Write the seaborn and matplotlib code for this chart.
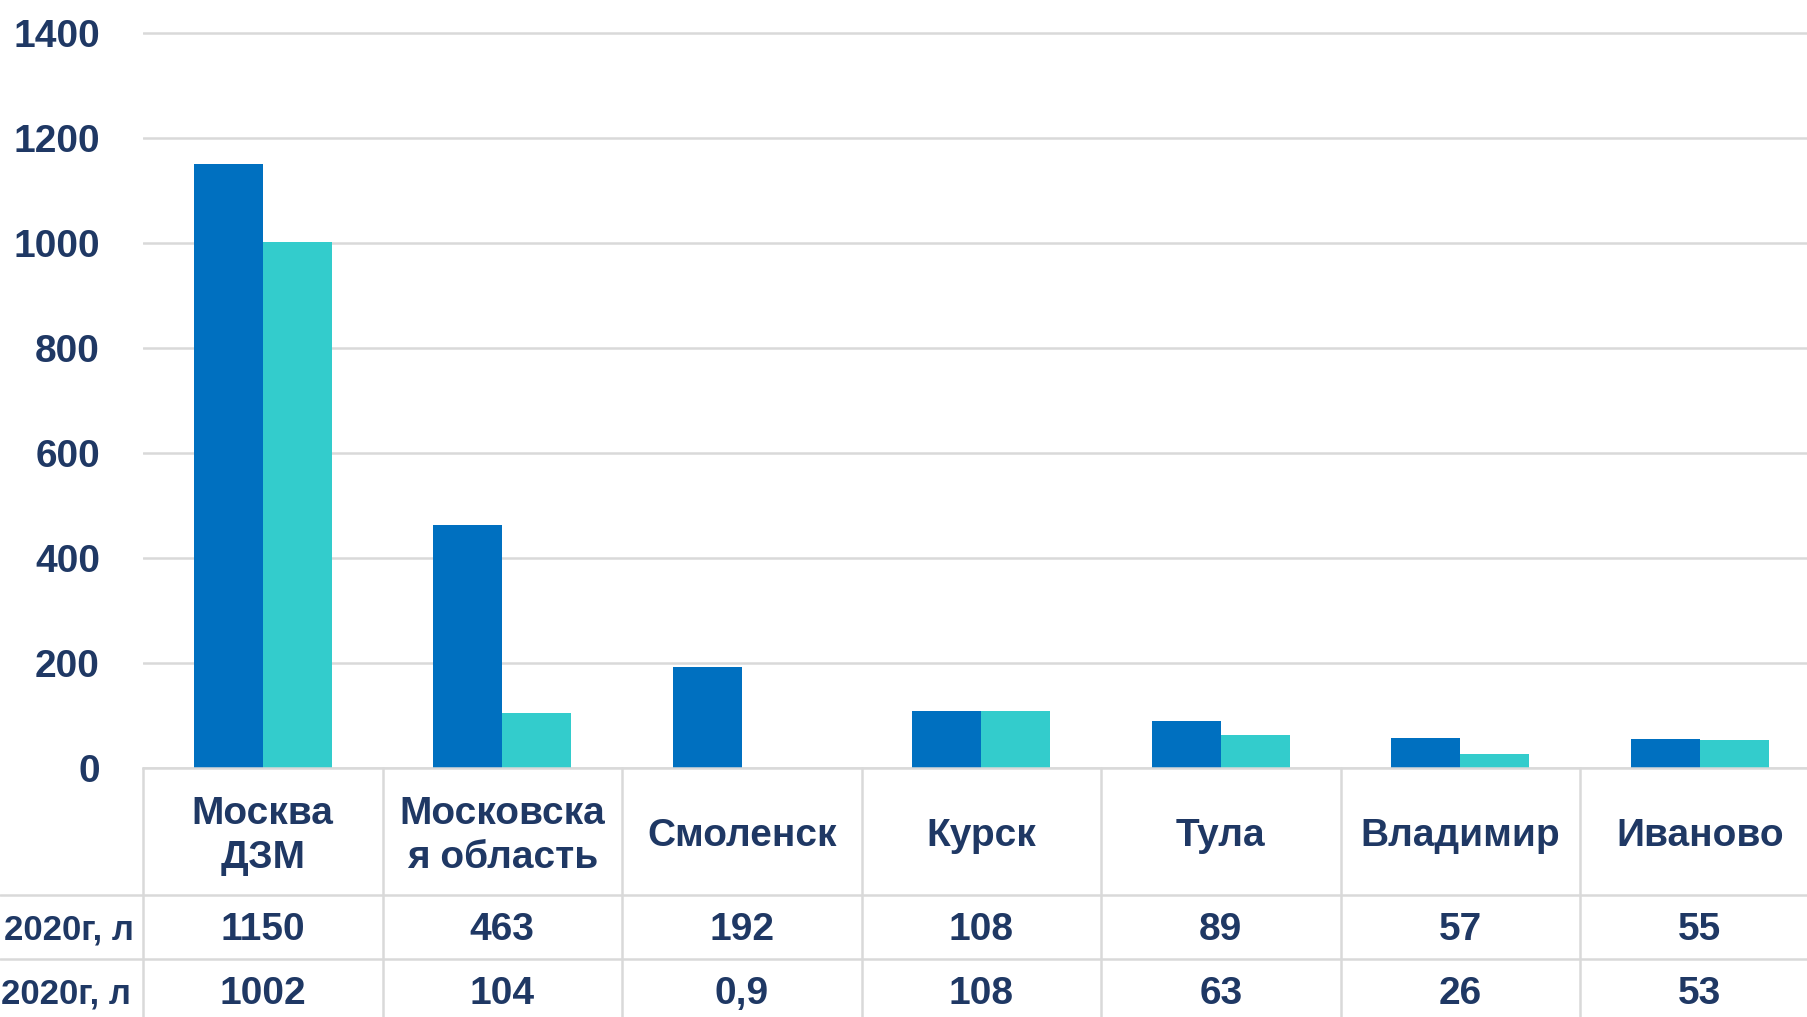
import numpy as np
import pandas as pd
import matplotlib
matplotlib.use("Agg")
import matplotlib.pyplot as plt
import matplotlib.transforms as mtransforms
from matplotlib.lines import Line2D
import seaborn as sns

# data
regions = ["Москва\nДЗМ", "Московска\nя область", "Смоленск", "Курск", "Тула", "Владимир", "Иваново"]
series_names = ["ряд 1", "ряд 2"]
row_labels = ["2020г, л", "2020г, л"]
values_1 = [1150, 463, 192, 108, 89, 57, 55]
values_2 = [1002, 104, 0.9, 108, 63, 26, 53]
y_ticks = [0, 200, 400, 600, 800, 1000, 1200, 1400]

DARK = "#0070C0"
TEAL = "#33CCCC"
TXT = "#1F3864"
GRID = "#D9D9D9"

df = pd.DataFrame({
    "region": regions * 2,
    "series": [series_names[0]] * len(regions) + [series_names[1]] * len(regions),
    "value": values_1 + values_2,
})

sns.set_theme(style="white")
plt.rcParams["font.family"] = ["Liberation Sans Narrow", "Liberation Sans", "DejaVu Sans"]
plt.rcParams["font.weight"] = "bold"

W, H = 1808, 1017
fig = plt.figure(figsize=(W / 100, H / 100), dpi=100)
# axes runs off the right edge like the cropped slide
ax_left, ax_w = 143, 239.5 * 7
ax_bottom_px, ax_h = 768, 768
ax = fig.add_axes([ax_left / W, (H - ax_bottom_px) / H, ax_w / W, ax_h / H])

sns.barplot(data=df, x="region", y="value", hue="series", order=regions,
            palette=[DARK, TEAL], width=0.577, gap=0, saturation=1,
            edgecolor="none", legend=False, ax=ax)

ax.set_ylim(0, 1400 * 768 / 735)
ax.set_xlim(-0.5, len(regions) - 0.5)
ax.set_yticks(y_ticks)
ax.set_yticklabels([str(t) for t in y_ticks], fontsize=28, color=TXT, fontweight="bold")
ax.tick_params(axis="y", length=0, pad=31)
ax.set_xticks([])
ax.set_xlabel("")
ax.set_ylabel("")
ax.yaxis.grid(True, color=GRID, linewidth=1.8)
ax.set_axisbelow(True)
for s in ["top", "right", "left"]:
    ax.spines[s].set_visible(False)
ax.spines["bottom"].set_color(GRID)
ax.spines["bottom"].set_linewidth(1.8)

# table under the chart
trans = mtransforms.blended_transform_factory(ax.transData, ax.transAxes)
hdr_b = -127 / 768
r1_b = -191 / 768
r2_b = -255 / 768
for i in range(len(regions) + 1):
    ax.add_line(Line2D([i - 0.5, i - 0.5], [0, r2_b], transform=trans,
                       color=GRID, lw=1.8, clip_on=False))
fig_x0 = -ax_left / ax_w
for yb in [hdr_b, r1_b]:
    ax.add_line(Line2D([fig_x0, 1], [yb, yb], transform=ax.transAxes,
                       color=GRID, lw=1.8, clip_on=False))

for i, name in enumerate(regions):
    ax.text(i, hdr_b / 2 - 0.006, name, transform=trans, ha="center", va="center",
            fontsize=28, color=TXT, fontweight="bold", linespacing=1.3)
    ax.text(i, (hdr_b + r1_b) / 2 - 0.004, f"{values_1[i]:g}".replace(".", ","), transform=trans,
            ha="center", va="center", fontsize=28, color=TXT, fontweight="bold")
    ax.text(i, (r1_b + r2_b) / 2 - 0.004, f"{values_2[i]:g}".replace(".", ","), transform=trans,
            ha="center", va="center", fontsize=28, color=TXT, fontweight="bold")

lab_x = -9 / ax_w
ax.text(lab_x, (hdr_b + r1_b) / 2 - 0.004, row_labels[0], transform=ax.transAxes,
        ha="right", va="center", fontsize=25, color=TXT, fontweight="bold")
ax.text(lab_x - 3 / ax_w, (r1_b + r2_b) / 2 - 0.004, row_labels[1], transform=ax.transAxes,
        ha="right", va="center", fontsize=25, color=TXT, fontweight="bold")

fig.savefig("out.png", dpi=100)
